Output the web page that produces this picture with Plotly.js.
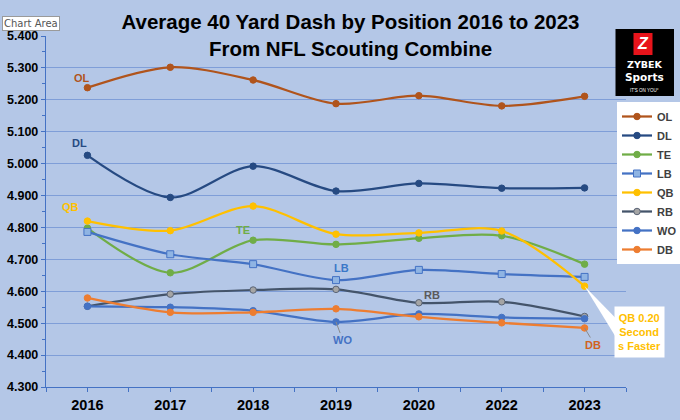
<!DOCTYPE html>
<html>
<head>
<meta charset="utf-8">
<script src="https://cdn.plot.ly/plotly-3.0.1.min.js"></script>
<style>html,body{margin:0;padding:0;background:#B4C7E7;}#chart{width:680px;height:420px;}</style>
</head>
<body>
<div id="chart"></div>
<script>
// ---- data ----
const years = ['2016', '2017', '2018', '2019', '2020', '2022', '2023'];
const OL = [5.238, 5.302, 5.262, 5.188, 5.213, 5.181, 5.211];
const DL = [5.026, 4.894, 4.992, 4.914, 4.938, 4.923, 4.924];
const TE = [4.798, 4.658, 4.760, 4.747, 4.766, 4.774, 4.685];
const LB = [4.786, 4.716, 4.685, 4.635, 4.667, 4.654, 4.645];
const QB = [4.820, 4.790, 4.867, 4.779, 4.783, 4.789, 4.616];
const RB = [4.553, 4.591, 4.604, 4.606, 4.564, 4.567, 4.521];
const WO = [4.553, 4.550, 4.539, 4.504, 4.529, 4.518, 4.514];
const DB = [4.579, 4.534, 4.534, 4.545, 4.520, 4.501, 4.485];
const yTicks = [4.3, 4.4, 4.5, 4.6, 4.7, 4.8, 4.9, 5.0, 5.1, 5.2, 5.3, 5.4];

// ---- layout helpers (pixel -> paper) ----
const W = 680, H = 420, ML = 46, MR = 54, MT = 36, MB = 33;
const PW = W - ML - MR, PH = H - MT - MB;
const px = x => (x - ML) / PW;
const py = y => (H - MB - y) / PH;

const idx = years.map((_, i) => i);
const FONT = 'Liberation Sans, Arial, sans-serif';

function series(name, vals, color, opts) {
  opts = opts || {};
  return {
    type: 'scatter', mode: 'lines+markers', name: name,
    x: idx, y: vals,
    line: {color: opts.lineColor || color, width: 2.25, shape: 'spline', smoothing: 0.9},
    marker: {
      color: opts.fill || color, size: opts.size || 6.5, symbol: opts.symbol || 'circle',
      line: {color: opts.border || color, width: 1}
    },
    hoverinfo: 'x+y'
  };
}

const data = [
  series('OL', OL, '#B0541C'),
  series('DL', DL, '#264A82'),
  series('TE', TE, '#70AD47'),
  series('LB', LB, '#4472C4', {symbol: 'square', fill: '#8FB4E3', size: 7}),
  series('QB', QB, '#FFC000'),
  series('RB', RB, '#44546A', {fill: '#A5A5A5', border: '#5A6476'}),
  series('WO', WO, '#4472C4'),
  series('DB', DB, '#ED7D31')
];

function lab(text, x, y, color) {
  return {text: '<b>' + text + '</b>', x: x, y: y, xref: 'x', yref: 'y', showarrow: false,
          xanchor: 'center', yanchor: 'middle',
          font: {family: FONT, size: 11, color: color}};
}
function logoText(text, x, y, size, family) {
  return {text: text, xref: 'paper', yref: 'paper', x: px(x), y: py(y),
          xanchor: 'center', yanchor: 'middle', showarrow: false,
          font: {family: family || FONT, size: size, color: '#FFFFFF'}};
}

const annotations = [
  lab('OL', -0.065, 5.268, '#B0541C'),
  lab('DL', -0.09, 5.065, '#264A82'),
  lab('QB', -0.21, 4.864, '#FFC000'),
  lab('TE', 1.877, 4.792, '#70AD47'),
  lab('LB', 3.07, 4.673, '#3A78C8'),
  lab('RB', 4.16, 4.588, '#5A5A5A'),
  lab('WO', 3.08, 4.447, '#4472C4'),
  lab('DB', 6.10, 4.431, '#D0621E'),
  // callout
  {text: '<b>QB 0.20<br>Second<br>s Faster</b>', xref: 'paper', yref: 'paper',
   x: px(639.5), y: py(332), xanchor: 'center', yanchor: 'middle', showarrow: false,
   bgcolor: '#FFFFFF', width: 45, height: 46, borderpad: 2,
   font: {family: FONT, size: 11, color: '#FFC000'}},
  // chart area tooltip
  {text: 'Chart Area', xref: 'paper', yref: 'paper', x: px(2), y: py(24),
   xanchor: 'left', yanchor: 'middle', showarrow: false, bgcolor: '#FFFFFF',
   bordercolor: '#9A9A9A', borderwidth: 1, borderpad: 1,
   font: {family: 'DejaVu Sans, sans-serif', size: 10, color: '#555555'}},
  // logo texts
  logoText('<b><i>Z</i></b>', 643, 44, 16),
  logoText('<b>ZYBEK</b>', 645, 65, 9.5, 'DejaVu Sans, sans-serif'),
  logoText('<b>Sports</b>', 645, 77, 10.5, 'DejaVu Sans, sans-serif'),
  logoText("IT'S ON YOU\u00B0", 645, 91, 4.5)
];

const shapes = [
  // callout wedge
  {type: 'path', xref: 'x', yref: 'y', layer: 'above',
   path: 'M 6,' + QB[6] + ' L 6.38,4.515 L 6.38,4.455 Z',
   fillcolor: '#FFFFFF', line: {width: 0}},
  // leader lines
  {type: 'line', xref: 'x', yref: 'y', x0: 6, y0: DB[6], x1: 6.07, y1: DB[6] - 0.03,
   line: {color: '#8A8A8A', width: 1}},
  {type: 'line', xref: 'x', yref: 'y', x0: 3, y0: WO[3], x1: 3.05, y1: WO[3] - 0.035,
   line: {color: '#8A8A8A', width: 1}},
  // logo
  {type: 'rect', xref: 'paper', yref: 'paper', x0: px(615.5), x1: px(674), y0: py(96), y1: py(29),
   fillcolor: '#000000', line: {width: 0}, layer: 'above'},
  {type: 'rect', xref: 'paper', yref: 'paper', x0: px(633.5), x1: px(652.5), y0: py(55), y1: py(33),
   fillcolor: '#E8141B', line: {width: 0}, layer: 'above'}
];

const layout = {
  width: W, height: H,
  margin: {l: ML, r: MR, t: MT, b: MB, pad: 0, autoexpand: false},
  paper_bgcolor: '#B4C7E7', plot_bgcolor: '#B4C7E7',
  title: {
    text: '<b>Average 40 Yard Dash by Position 2016 to 2023<br>From NFL Scouting Combine</b>',
    font: {family: FONT, size: 20.5, color: '#000000'},
    x: 357 / W, xanchor: 'center', xref: 'paper',
    yref: 'container', y: 1 - 29 / H, yanchor: 'top'
  },
  showlegend: true,
  legend: {
    x: px(617), y: py(102), xanchor: 'left', yanchor: 'top',
    bgcolor: '#FFFFFF', borderwidth: 0, itemwidth: 30,
    font: {family: FONT, size: 11, color: '#404040', weight: 'bold'},
    tracegroupgap: 0
  },
  xaxis: {
    range: [-0.5, 6.5], tickmode: 'array', tickvals: idx, ticktext: years,
    showgrid: false, zeroline: false,
    showline: true, linecolor: '#4472C4', linewidth: 1.2,
    ticks: 'outside', ticklen: 4, tickcolor: '#4472C4',
    minor: {dtick: 0.5, tick0: -0.5, ticks: 'outside', ticklen: 4, tickcolor: '#4472C4', showgrid: false},
    tickfont: {family: FONT, size: 14.5, color: '#000000', weight: 'bold'},
    fixedrange: true
  },
  yaxis: {
    range: [4.3, 5.4], tickmode: 'array', tickvals: yTicks,
    ticktext: yTicks.map(v => v.toFixed(3)),
    showgrid: true, gridcolor: '#7F9ED8', gridwidth: 1,
    zeroline: false, showline: true, linecolor: '#4472C4', linewidth: 1.2,
    ticks: 'outside', ticklen: 4, tickcolor: '#4472C4',
    minor: {dtick: 0.05, tick0: 4.3, ticks: 'outside', ticklen: 3, tickcolor: '#4472C4', showgrid: false},
    tickfont: {family: FONT, size: 12.5, color: '#000000', weight: 'bold'},
    fixedrange: true
  },
  annotations: annotations,
  shapes: shapes
};

Plotly.newPlot('chart', data, layout, {displayModeBar: false, staticPlot: true});
</script>
</body>
</html>
